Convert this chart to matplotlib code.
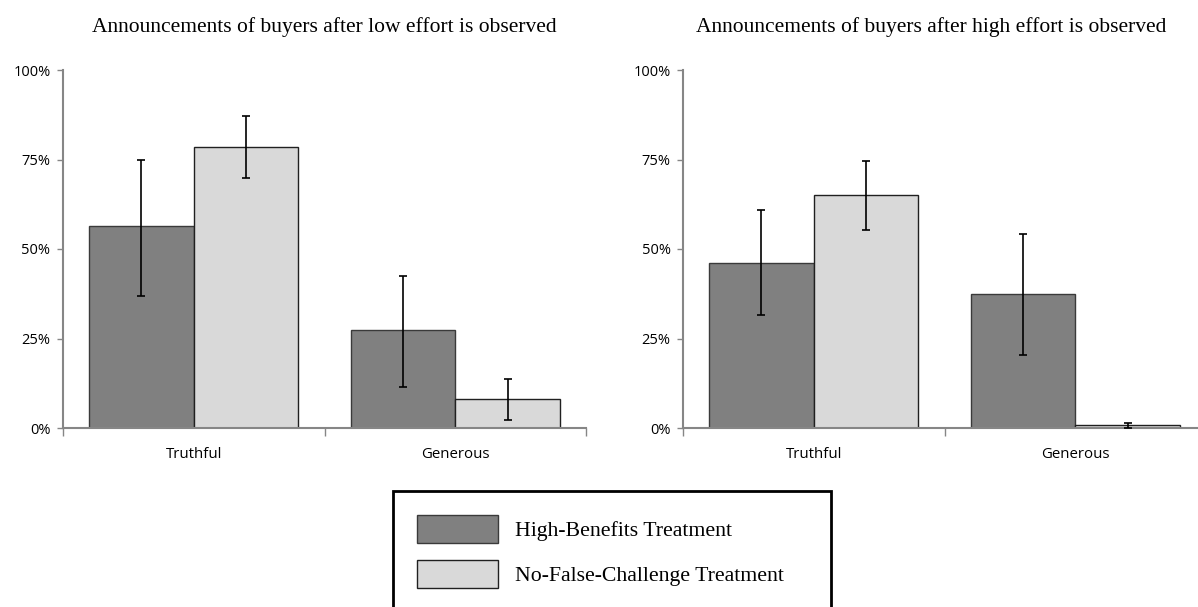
import matplotlib
matplotlib.use("Agg")
import matplotlib.pyplot as plt
import numpy as np
from matplotlib.patches import Rectangle
from matplotlib.ticker import FuncFormatter

categories = ["Truthful", "Generous"]
series_names = ["High-Benefits Treatment", "No-False-Challenge Treatment"]
titles = ["Announcements of buyers after low effort is observed",
          "Announcements of buyers after high effort is observed"]

# low effort panel
low_hb = [0.563, 0.275]
low_hb_lo = [0.369, 0.115]
low_hb_hi = [0.748, 0.424]
low_nfc = [0.785, 0.082]
low_nfc_lo = [0.697, 0.023]
low_nfc_hi = [0.872, 0.136]

# high effort panel
high_hb = [0.462, 0.375]
high_hb_lo = [0.315, 0.203]
high_hb_hi = [0.608, 0.541]
high_nfc = [0.650, 0.007]
high_nfc_lo = [0.553, 0.0]
high_nfc_hi = [0.746, 0.015]

yticks = [0, 0.25, 0.5, 0.75, 1.0]

W, H = 1198, 607
fig = plt.figure(figsize=(W / 100, H / 100), dpi=100)

dark = "#808080"
light = "#d9d9d9"
axis_gray = "#868686"
tick_font = "Open Sans"
serif = ["Liberation Serif", "DejaVu Serif"]

def px_axes(x0, x1, y_top, y_bot):
    return [x0 / W, 1 - y_bot / H, (x1 - x0) / W, (y_bot - y_top) / H]

panels = [
    (px_axes(63, 586, 70, 428), (low_hb, low_hb_lo, low_hb_hi), (low_nfc, low_nfc_lo, low_nfc_hi), titles[0], 324),
    (px_axes(683, 1206, 70, 428), (high_hb, high_hb_lo, high_hb_hi), (high_nfc, high_nfc_lo, high_nfc_hi), titles[1], 931),
]

handles = None
for rect, hb, nfc, title, tx in panels:
    ax = fig.add_axes(rect)
    x = np.arange(len(categories))
    bw = 0.4
    hb_v, hb_lo, hb_hi = (np.array(a) for a in hb)
    nfc_v, nfc_lo, nfc_hi = (np.array(a) for a in nfc)
    b1 = ax.bar(x - bw / 2, hb_v, bw, color=dark, edgecolor="#3a3a3a", linewidth=1.0, zorder=2)
    b2 = ax.bar(x + bw / 2, nfc_v, bw, color=light, edgecolor="#202020", linewidth=1.0, zorder=2)
    ax.errorbar(x - bw / 2, hb_v, yerr=[hb_v - hb_lo, hb_hi - hb_v], fmt="none",
                ecolor="black", elinewidth=1.2, capsize=2.8, capthick=1.2, zorder=3)
    ax.errorbar(x + bw / 2, nfc_v, yerr=[nfc_v - nfc_lo, nfc_hi - nfc_v], fmt="none",
                ecolor="black", elinewidth=1.2, capsize=2.8, capthick=1.2, zorder=3)
    handles = [b1, b2]
    ax.set_xlim(-0.5, len(categories) - 0.5)
    ax.set_ylim(0, 1.0)
    ax.set_yticks(yticks)
    ax.yaxis.set_major_formatter(FuncFormatter(lambda v, p: f"{v * 100:.0f}%"))
    ax.set_xticks(x)
    ax.set_xticklabels(categories, fontsize=10.8, family=tick_font)
    ax.set_xticks(np.arange(-0.5, len(categories), 1.0), minor=True)
    ax.tick_params(axis="x", which="major", length=0, pad=14)
    ax.tick_params(axis="x", which="minor", length=6, color=axis_gray, width=1)
    ax.tick_params(axis="y", length=4, color=axis_gray, width=1, pad=5)
    for lab in ax.get_yticklabels():
        lab.set_fontsize(10.5)
        lab.set_family(tick_font)
    for s in ["top", "right"]:
        ax.spines[s].set_visible(False)
    for s in ["left", "bottom"]:
        ax.spines[s].set_color(axis_gray)
        ax.spines[s].set_linewidth(1.5)
    fig.text(tx / W, 1 - 27 / H, title, ha="center", va="center", fontsize=15.5, family=serif)

# legend box
box = Rectangle((393 / W, 1 - 640 / H), (831 - 393) / W, (640 - 491) / H, transform=fig.transFigure,
                fill=False, edgecolor="black", linewidth=2.0)
fig.add_artist(box)
fs = 15.7
fs_px = fs * 100 / 72
fig.legend(handles, series_names, loc="upper left", bbox_to_anchor=(417 / W, 1 - 515 / H),
           bbox_transform=fig.transFigure, frameon=False, borderpad=0, borderaxespad=0,
           handlelength=81 / fs_px, handleheight=28 / (0.82 * fs_px),
           handletextpad=17 / fs_px, labelspacing=17.5 / fs_px, prop={"family": serif, "size": fs})

fig.savefig("out.png", dpi=100)
